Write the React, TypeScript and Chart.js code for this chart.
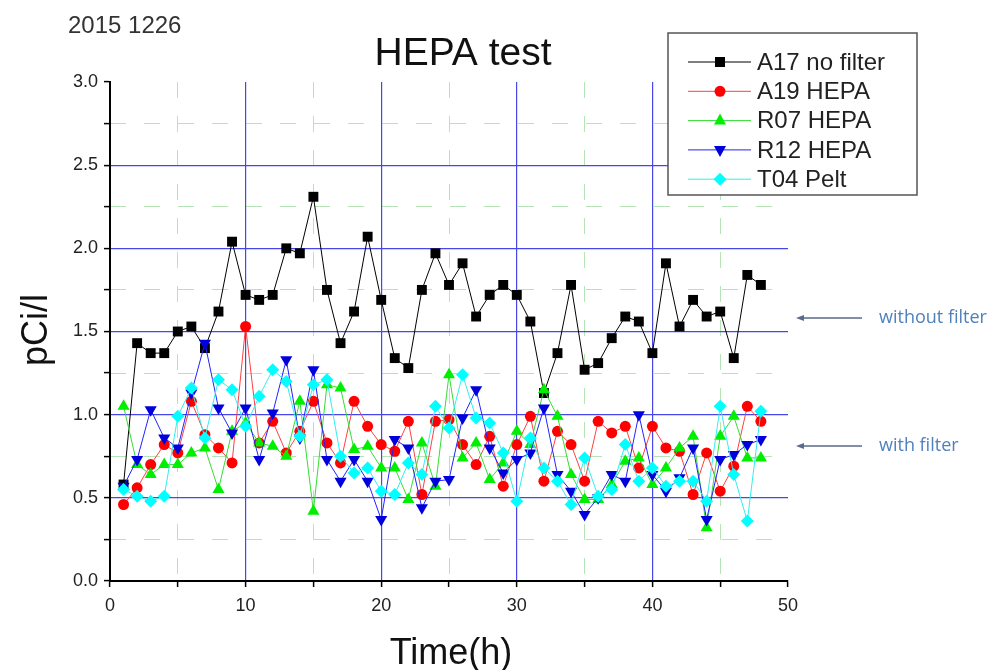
import { useEffect, useRef } from 'react';
import { Chart, registerables } from 'chart.js';

Chart.register(...registerables);

const hours = [1, 2, 3, 4, 5, 6, 7, 8, 9, 10, 11, 12, 13, 14, 15, 16, 17, 18, 19, 20, 21, 22, 23, 24, 25, 26, 27, 28, 29, 30, 31, 32, 33, 34, 35, 36, 37, 38, 39, 40, 41, 42, 43, 44, 45, 46, 47, 48];

const seriesNames = ['A17 no filter', 'A19 HEPA', 'R07 HEPA', 'R12 HEPA', 'T04 Pelt'];

const a17 = [0.58, 1.43, 1.37, 1.37, 1.5, 1.53, 1.4, 1.62, 2.04, 1.72, 1.69, 1.72, 2.0, 1.97, 2.31, 1.75, 1.43, 1.62, 2.07, 1.69, 1.34, 1.28, 1.75, 1.97, 1.78, 1.91, 1.59, 1.72, 1.78, 1.72, 1.56, 1.13, 1.37, 1.78, 1.27, 1.31, 1.46, 1.59, 1.56, 1.37, 1.91, 1.53, 1.69, 1.59, 1.62, 1.34, 1.84, 1.78];
const a19 = [0.46, 0.56, 0.7, 0.82, 0.77, 1.08, 0.88, 0.8, 0.71, 1.53, 0.83, 0.96, 0.77, 0.9, 1.08, 0.83, 0.71, 1.08, 0.93, 0.82, 0.78, 0.96, 0.52, 0.96, 0.97, 0.82, 0.7, 0.87, 0.57, 0.82, 0.99, 0.6, 0.9, 0.82, 0.6, 0.96, 0.89, 0.93, 0.68, 0.93, 0.8, 0.78, 0.52, 0.77, 0.54, 0.69, 1.05, 0.96];
const r07 = [1.05, 0.7, 0.64, 0.7, 0.7, 0.77, 0.8, 0.55, 0.9, 0.95, 0.83, 0.81, 0.75, 1.08, 0.42, 1.18, 1.16, 0.79, 0.81, 0.68, 0.68, 0.49, 0.83, 0.57, 1.24, 0.74, 0.83, 0.61, 0.71, 0.9, 0.82, 1.15, 0.99, 0.64, 0.49, 0.49, 0.58, 0.72, 0.74, 0.58, 0.68, 0.8, 0.87, 0.32, 0.87, 0.99, 0.74, 0.74];
const r12 = [0.57, 0.73, 1.03, 0.86, 0.8, 1.13, 1.43, 1.04, 0.89, 1.04, 0.73, 1.01, 1.33, 0.86, 1.27, 0.73, 0.6, 0.73, 0.6, 0.37, 0.85, 0.8, 0.44, 0.6, 0.61, 0.98, 1.15, 0.8, 0.65, 0.73, 0.77, 1.04, 0.64, 0.54, 0.4, 0.5, 0.64, 0.6, 1.0, 0.64, 0.54, 0.62, 0.8, 0.37, 0.73, 0.76, 0.82, 0.85];
const t04 = [0.55, 0.51, 0.48, 0.51, 0.99, 1.16, 0.86, 1.21, 1.15, 0.93, 1.11, 1.27, 1.2, 0.87, 1.18, 1.21, 0.75, 0.65, 0.68, 0.54, 0.52, 0.71, 0.64, 1.05, 0.92, 1.24, 0.98, 0.95, 0.77, 0.48, 0.86, 0.68, 0.6, 0.46, 0.74, 0.51, 0.55, 0.82, 0.6, 0.68, 0.57, 0.6, 0.6, 0.48, 1.05, 0.64, 0.36, 1.02];

const xTickValues = [0, 5, 10, 15, 20, 25, 30, 35, 40, 45, 50];
const xMajorGrid = [10, 20, 30, 40];
const xMinorGrid = [5, 15, 25, 35, 45];
const yTickValues = [0, 0.25, 0.5, 0.75, 1.0, 1.25, 1.5, 1.75, 2.0, 2.25, 2.5, 2.75, 3.0];
const yMajorGrid = [0.5, 1.0, 1.5, 2.0, 2.5];
const yMinorGrid = [0.25, 0.75, 1.25, 1.75, 2.25, 2.75];

const lineColors = ['#000000', '#ff4040', '#33dd33', '#2222ff', '#33eeee'];
const markerColors = ['#000000', '#ff0000', '#00ee00', '#0000dd', '#00ffff'];
const markerStyles = ['rect', 'circle', 'triangle', 'triangle', 'rectRot'];
const markerRotations = [0, 0, 0, 180, 0];
const markerRadii = [7, 5.5, 7, 7, 6.5];

const BLUE = 'rgb(70,70,235)';
const GREEN = 'rgba(120,205,120,0.55)';
const FONT = '"Liberation Sans", Arial, sans-serif';

function drawMarker(ctx: CanvasRenderingContext2D, i: number, x: number, y: number) {
  ctx.save();
  ctx.fillStyle = markerColors[i];
  ctx.beginPath();
  if (i === 0) {
    ctx.rect(x - 5, y - 5, 10, 10);
  } else if (i === 1) {
    ctx.arc(x, y, 5.5, 0, Math.PI * 2);
  } else if (i === 2) {
    ctx.moveTo(x, y - 7);
    ctx.lineTo(x + 6, y + 4);
    ctx.lineTo(x - 6, y + 4);
    ctx.closePath();
  } else if (i === 3) {
    ctx.moveTo(x, y + 7);
    ctx.lineTo(x + 6, y - 4);
    ctx.lineTo(x - 6, y - 4);
    ctx.closePath();
  } else {
    ctx.moveTo(x, y - 6.5);
    ctx.lineTo(x + 6.5, y);
    ctx.lineTo(x, y + 6.5);
    ctx.lineTo(x - 6.5, y);
    ctx.closePath();
  }
  ctx.fill();
  ctx.restore();
}

const decorPlugin = {
  id: 'decor',
  afterDraw(chart: any) {
    const ctx: CanvasRenderingContext2D = chart.ctx;
    ctx.save();
    ctx.textBaseline = 'middle';
    // date
    ctx.fillStyle = '#333';
    ctx.font = `24px ${FONT}`;
    ctx.textAlign = 'left';
    ctx.fillText('2015 1226', 68, 26);
    // title
    ctx.fillStyle = '#111';
    ctx.font = `39px ${FONT}`;
    ctx.textAlign = 'center';
    ctx.fillText('HEPA test', 463, 54);
    // axis titles
    ctx.font = `36px ${FONT}`;
    ctx.fillText('Time(h)', 451, 654);
    ctx.save();
    ctx.translate(37, 330);
    ctx.rotate(-Math.PI / 2);
    ctx.fillText('pCi/l', 0, 0);
    ctx.restore();
    // legend
    ctx.fillStyle = '#ffffff';
    ctx.fillRect(668, 33, 249, 162);
    ctx.strokeStyle = '#555';
    ctx.lineWidth = 1.5;
    ctx.strokeRect(668, 33, 249, 162);
    ctx.font = `24px ${FONT}`;
    ctx.textAlign = 'left';
    for (let i = 0; i < seriesNames.length; i++) {
      const y = 62 + i * 29.3;
      ctx.strokeStyle = lineColors[i];
      ctx.lineWidth = 1;
      ctx.beginPath();
      ctx.moveTo(688, y);
      ctx.lineTo(751, y);
      ctx.stroke();
      drawMarker(ctx, i, 720, y);
      ctx.fillStyle = '#222';
      ctx.fillText(seriesNames[i], 757, y + 1);
    }
    // annotations
    const notes = [
      { text: 'without filter', y: 318 },
      { text: 'with filter', y: 446 },
    ];
    for (const n of notes) {
      ctx.strokeStyle = '#5a6a8a';
      ctx.fillStyle = '#5a6a8a';
      ctx.lineWidth = 1.5;
      ctx.beginPath();
      ctx.moveTo(800, n.y);
      ctx.lineTo(862, n.y);
      ctx.stroke();
      ctx.beginPath();
      ctx.moveTo(796, n.y);
      ctx.lineTo(804, n.y - 3);
      ctx.lineTo(804, n.y + 3);
      ctx.closePath();
      ctx.fill();
      ctx.fillStyle = 'rgb(79,129,189)';
      ctx.font = `18px "Open Sans", sans-serif`;
      ctx.fillText(n.text, 879, n.y);
    }
    ctx.restore();
  },
};

const near = (list: number[], v: number) => list.some((t) => Math.abs(t - v) < 1e-6);

export default function App() {
  const canvasRef = useRef<HTMLCanvasElement | null>(null);

  useEffect(() => {
    const canvas = canvasRef.current;
    if (!canvas) return;
    const series = [a17, a19, r07, r12, t04];
    const datasets = series.map((vals, i) => ({
      label: seriesNames[i],
      data: hours.map((h, k) => ({ x: h, y: vals[k] })),
      borderColor: lineColors[i],
      borderWidth: 1,
      backgroundColor: markerColors[i],
      pointBackgroundColor: markerColors[i],
      pointBorderColor: markerColors[i],
      pointBorderWidth: 0,
      pointStyle: markerStyles[i] as any,
      pointRotation: markerRotations[i],
      pointRadius: markerRadii[i],
      tension: 0,
      fill: false,
      order: 5 - i,
    }));

    const chart = new Chart(canvas, {
      type: 'line',
      data: { datasets },
      plugins: [decorPlugin],
      options: {
        animation: false,
        responsive: false,
        events: [],
        layout: { padding: { left: 0, right: 206, top: 82, bottom: 0 } },
        plugins: { legend: { display: false }, tooltip: { enabled: false }, title: { display: false } },
        scales: {
          x: {
            type: 'linear',
            min: 0,
            max: 50,
            afterBuildTicks: (s: any) => {
              s.ticks = xTickValues.map((v) => ({ value: v }));
            },
            afterFit: (s: any) => {
              s.height = 89;
            },
            grid: {
              color: (c: any) => (c.tick && near(xMajorGrid, c.tick.value) ? BLUE : 'rgba(0,0,0,0)'),
              lineWidth: 1.2,
              tickColor: '#000',
              tickLength: 6,
              tickWidth: 1.5,
            },
            border: { color: '#000', width: 2 },
            ticks: {
              autoSkip: false,
              maxRotation: 0,
              padding: 8,
              color: '#222',
              font: { family: FONT, size: 18 },
              callback: (v: any) => (Math.round(v) % 10 === 0 ? String(v) : ''),
            },
          },
          x2: {
            type: 'linear',
            position: 'bottom',
            min: 0,
            max: 50,
            afterBuildTicks: (s: any) => {
              s.ticks = xMinorGrid.map((v) => ({ value: v }));
            },
            afterFit: (s: any) => {
              s.height = 0;
            },
            ticks: { display: false },
            grid: { color: GREEN, lineWidth: 1, drawTicks: false },
            border: { display: false, dash: [16, 18] },
          },
          y: {
            type: 'linear',
            min: 0,
            max: 3,
            afterBuildTicks: (s: any) => {
              s.ticks = yTickValues.map((v) => ({ value: v }));
            },
            afterFit: (s: any) => {
              s.width = 110;
            },
            grid: {
              color: (c: any) => (c.tick && near(yMajorGrid, c.tick.value) ? BLUE : 'rgba(0,0,0,0)'),
              lineWidth: 1.2,
              tickColor: '#000',
              tickLength: 6,
              tickWidth: 1.5,
            },
            border: { color: '#000', width: 2 },
            ticks: {
              autoSkip: false,
              padding: 6,
              color: '#222',
              font: { family: FONT, size: 18 },
              callback: (v: any) => (Math.abs(v * 2 - Math.round(v * 2)) < 1e-6 ? Number(v).toFixed(1) : ''),
            },
          },
          y2: {
            type: 'linear',
            position: 'left',
            min: 0,
            max: 3,
            afterBuildTicks: (s: any) => {
              s.ticks = yMinorGrid.map((v) => ({ value: v }));
            },
            afterFit: (s: any) => {
              s.width = 0;
            },
            ticks: { display: false },
            grid: { color: GREEN, lineWidth: 1, drawTicks: false },
            border: { display: false, dash: [16, 18] },
          },
        },
      },
    } as any);

    return () => {
      chart.destroy();
    };
  }, []);

  return (
    <div style={{ position: 'absolute', left: 0, top: 0, width: 994, height: 670, background: '#fff' }}>
      <canvas ref={canvasRef} width={994} height={670} style={{ width: 994, height: 670 }} />
    </div>
  );
}
